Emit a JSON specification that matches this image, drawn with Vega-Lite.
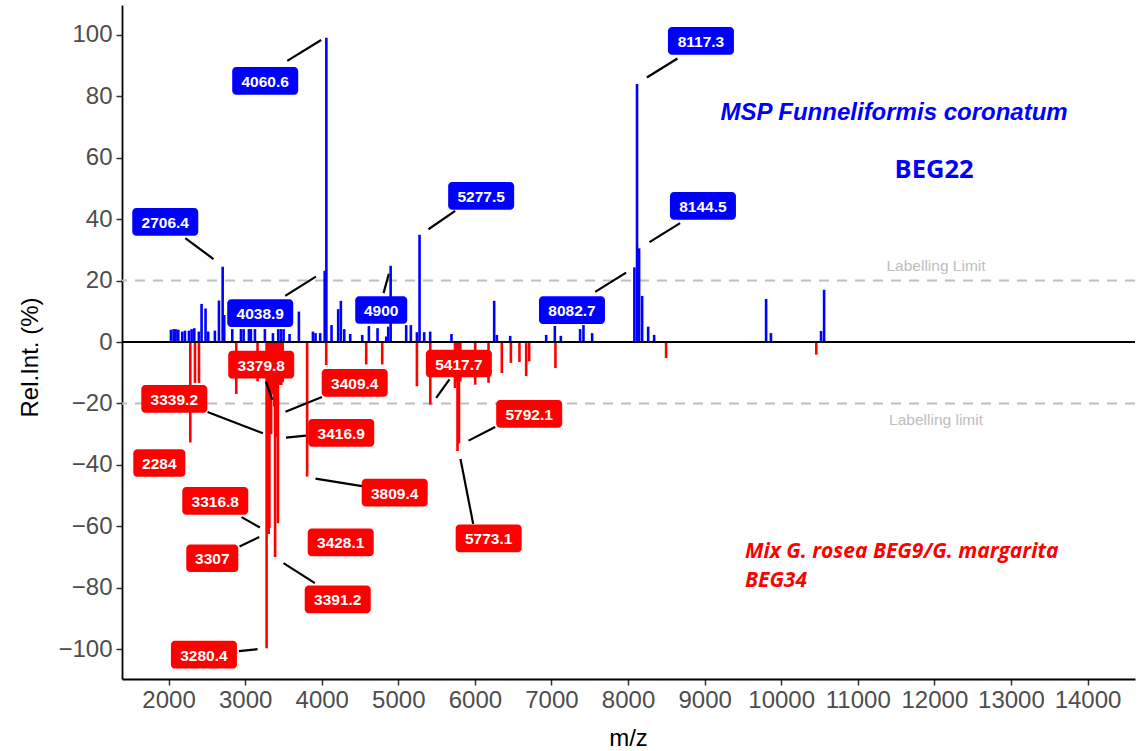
{
  "$schema": "https://vega.github.io/schema/vega-lite/v6.json",
  "width": 1013,
  "height": 674,
  "autosize": {"type": "none"},
  "padding": {"left": 122, "top": 5, "right": 2, "bottom": 72},
  "background": "white",
  "config": {"view": {"stroke": null}},
  "datasets": {
    "one": [{}],
    "peaks": [
      {"mz": 2031, "intensity": 4.0, "sample": "pos"},
      {"mz": 2066, "intensity": 4.2, "sample": "pos"},
      {"mz": 2092, "intensity": 4.2, "sample": "pos"},
      {"mz": 2127, "intensity": 4.0, "sample": "pos"},
      {"mz": 2179, "intensity": 3.4, "sample": "pos"},
      {"mz": 2214, "intensity": 3.7, "sample": "pos"},
      {"mz": 2266, "intensity": 3.7, "sample": "pos"},
      {"mz": 2301, "intensity": 4.2, "sample": "pos"},
      {"mz": 2336, "intensity": 4.5, "sample": "pos"},
      {"mz": 2396, "intensity": 3.4, "sample": "pos"},
      {"mz": 2431, "intensity": 12.4, "sample": "pos"},
      {"mz": 2483, "intensity": 10.9, "sample": "pos"},
      {"mz": 2518, "intensity": 3.4, "sample": "pos"},
      {"mz": 2605, "intensity": 3.7, "sample": "pos"},
      {"mz": 2658, "intensity": 13.5, "sample": "pos"},
      {"mz": 2706.4, "intensity": 24.5, "sample": "pos"},
      {"mz": 2727, "intensity": 8.8, "sample": "pos"},
      {"mz": 2832, "intensity": 4.2, "sample": "pos"},
      {"mz": 2945, "intensity": 4.2, "sample": "pos"},
      {"mz": 2980, "intensity": 4.2, "sample": "pos"},
      {"mz": 3049, "intensity": 4.2, "sample": "pos"},
      {"mz": 3075, "intensity": 4.2, "sample": "pos"},
      {"mz": 3128, "intensity": 4.2, "sample": "pos"},
      {"mz": 3258, "intensity": 4.2, "sample": "pos"},
      {"mz": 3363, "intensity": 2.9, "sample": "pos"},
      {"mz": 3432, "intensity": 4.2, "sample": "pos"},
      {"mz": 3467, "intensity": 4.2, "sample": "pos"},
      {"mz": 3502, "intensity": 4.2, "sample": "pos"},
      {"mz": 3580, "intensity": 2.6, "sample": "pos"},
      {"mz": 3702, "intensity": 9.9, "sample": "pos"},
      {"mz": 3885, "intensity": 3.4, "sample": "pos"},
      {"mz": 3919, "intensity": 2.9, "sample": "pos"},
      {"mz": 3980, "intensity": 2.9, "sample": "pos"},
      {"mz": 4038.9, "intensity": 23.2, "sample": "pos"},
      {"mz": 4060.6, "intensity": 99.0, "sample": "pos"},
      {"mz": 4128, "intensity": 5.5, "sample": "pos"},
      {"mz": 4215, "intensity": 10.7, "sample": "pos"},
      {"mz": 4250, "intensity": 13.4, "sample": "pos"},
      {"mz": 4294, "intensity": 4.2, "sample": "pos"},
      {"mz": 4372, "intensity": 2.6, "sample": "pos"},
      {"mz": 4529, "intensity": 2.3, "sample": "pos"},
      {"mz": 4616, "intensity": 5.2, "sample": "pos"},
      {"mz": 4729, "intensity": 4.5, "sample": "pos"},
      {"mz": 4842, "intensity": 1.8, "sample": "pos"},
      {"mz": 4868, "intensity": 5.0, "sample": "pos"},
      {"mz": 4900, "intensity": 24.8, "sample": "pos"},
      {"mz": 5103, "intensity": 5.5, "sample": "pos"},
      {"mz": 5164, "intensity": 5.5, "sample": "pos"},
      {"mz": 5243, "intensity": 3.2, "sample": "pos"},
      {"mz": 5277.5, "intensity": 34.9, "sample": "pos"},
      {"mz": 5338, "intensity": 3.2, "sample": "pos"},
      {"mz": 5416, "intensity": 3.4, "sample": "pos"},
      {"mz": 5694, "intensity": 2.6, "sample": "pos"},
      {"mz": 6252, "intensity": 13.4, "sample": "pos"},
      {"mz": 6287, "intensity": 2.3, "sample": "pos"},
      {"mz": 6461, "intensity": 2.0, "sample": "pos"},
      {"mz": 6931, "intensity": 2.3, "sample": "pos"},
      {"mz": 7044, "intensity": 5.2, "sample": "pos"},
      {"mz": 7122, "intensity": 2.0, "sample": "pos"},
      {"mz": 7374, "intensity": 4.2, "sample": "pos"},
      {"mz": 7418, "intensity": 5.5, "sample": "pos"},
      {"mz": 7531, "intensity": 2.9, "sample": "pos"},
      {"mz": 8082.7, "intensity": 24.3, "sample": "pos"},
      {"mz": 8117.3, "intensity": 84.0, "sample": "pos"},
      {"mz": 8144.5, "intensity": 30.5, "sample": "pos"},
      {"mz": 8184, "intensity": 15.0, "sample": "pos"},
      {"mz": 8263, "intensity": 5.0, "sample": "pos"},
      {"mz": 8341, "intensity": 2.3, "sample": "pos"},
      {"mz": 9803, "intensity": 14.0, "sample": "pos"},
      {"mz": 9866, "intensity": 2.9, "sample": "pos"},
      {"mz": 10520, "intensity": 3.6, "sample": "pos"},
      {"mz": 10560, "intensity": 17.0, "sample": "pos"},
      {"mz": 2284, "intensity": -32.7, "sample": "neg"},
      {"mz": 2345, "intensity": -13.3, "sample": "neg"},
      {"mz": 2397, "intensity": -13.3, "sample": "neg"},
      {"mz": 2884, "intensity": -16.9, "sample": "neg"},
      {"mz": 3162, "intensity": -12.8, "sample": "neg"},
      {"mz": 3280.4, "intensity": -99.7, "sample": "neg"},
      {"mz": 3295, "intensity": -15.0, "sample": "neg"},
      {"mz": 3307, "intensity": -62.5, "sample": "neg"},
      {"mz": 3316.8, "intensity": -60.5, "sample": "neg"},
      {"mz": 3328, "intensity": -16.0, "sample": "neg"},
      {"mz": 3339.2, "intensity": -30.0, "sample": "neg"},
      {"mz": 3352, "intensity": -16.0, "sample": "neg"},
      {"mz": 3365, "intensity": -17.0, "sample": "neg"},
      {"mz": 3379.8, "intensity": -21.0, "sample": "neg"},
      {"mz": 3391.2, "intensity": -70.0, "sample": "neg"},
      {"mz": 3400, "intensity": -16.0, "sample": "neg"},
      {"mz": 3409.4, "intensity": -23.0, "sample": "neg"},
      {"mz": 3416.9, "intensity": -31.0, "sample": "neg"},
      {"mz": 3428.1, "intensity": -59.0, "sample": "neg"},
      {"mz": 3440, "intensity": -14.0, "sample": "neg"},
      {"mz": 3455, "intensity": -13.0, "sample": "neg"},
      {"mz": 3472, "intensity": -14.0, "sample": "neg"},
      {"mz": 3490, "intensity": -13.0, "sample": "neg"},
      {"mz": 3809.4, "intensity": -43.8, "sample": "neg"},
      {"mz": 4059, "intensity": -7.5, "sample": "neg"},
      {"mz": 4581, "intensity": -7.3, "sample": "neg"},
      {"mz": 4790, "intensity": -7.3, "sample": "neg"},
      {"mz": 5243, "intensity": -14.4, "sample": "neg"},
      {"mz": 5417.7, "intensity": -20.4, "sample": "neg"},
      {"mz": 5740, "intensity": -15.0, "sample": "neg"},
      {"mz": 5755, "intensity": -12.8, "sample": "neg"},
      {"mz": 5773.1, "intensity": -35.5, "sample": "neg"},
      {"mz": 5792.1, "intensity": -33.0, "sample": "neg"},
      {"mz": 5810, "intensity": -12.8, "sample": "neg"},
      {"mz": 6004, "intensity": -13.9, "sample": "neg"},
      {"mz": 6178, "intensity": -13.3, "sample": "neg"},
      {"mz": 6352, "intensity": -10.1, "sample": "neg"},
      {"mz": 6470, "intensity": -6.8, "sample": "neg"},
      {"mz": 6582, "intensity": -6.5, "sample": "neg"},
      {"mz": 6670, "intensity": -11.1, "sample": "neg"},
      {"mz": 6709, "intensity": -6.3, "sample": "neg"},
      {"mz": 7052, "intensity": -8.5, "sample": "neg"},
      {"mz": 8497, "intensity": -5.2, "sample": "neg"},
      {"mz": 10458, "intensity": -4.1, "sample": "neg"}
    ],
    "labels": [
      {"label": "2706.4", "sample": "pos", "lx": 1957, "ly": 39.1},
      {"label": "4060.6", "sample": "pos", "lx": 3262, "ly": 85.0},
      {"label": "4038.9", "sample": "pos", "lx": 3197, "ly": 9.4},
      {"label": "4900", "sample": "pos", "lx": 4777, "ly": 10.4},
      {"label": "5277.5", "sample": "pos", "lx": 6082, "ly": 47.6},
      {"label": "8117.3", "sample": "pos", "lx": 8952, "ly": 98.0},
      {"label": "8144.5", "sample": "pos", "lx": 8978, "ly": 44.3},
      {"label": "8082.7", "sample": "pos", "lx": 7268, "ly": 10.4},
      {"label": "3379.8", "sample": "neg", "lx": 3210, "ly": -7.4},
      {"label": "3339.2", "sample": "neg", "lx": 2075, "ly": -18.5},
      {"label": "3409.4", "sample": "neg", "lx": 4431, "ly": -13.3},
      {"label": "3416.9", "sample": "neg", "lx": 4255, "ly": -29.6},
      {"label": "2284", "sample": "neg", "lx": 1879, "ly": -39.4},
      {"label": "3809.4", "sample": "neg", "lx": 4953, "ly": -49.0},
      {"label": "3316.8", "sample": "neg", "lx": 2610, "ly": -51.7},
      {"label": "3428.1", "sample": "neg", "lx": 4248, "ly": -65.2},
      {"label": "3307", "sample": "neg", "lx": 2571, "ly": -70.4},
      {"label": "3391.2", "sample": "neg", "lx": 4209, "ly": -83.8},
      {"label": "3280.4", "sample": "neg", "lx": 2462, "ly": -101.8},
      {"label": "5417.7", "sample": "neg", "lx": 5791, "ly": -7.0},
      {"label": "5792.1", "sample": "neg", "lx": 6709, "ly": -23.4},
      {"label": "5773.1", "sample": "neg", "lx": 6180, "ly": -63.9}
    ],
    "segments": [
      {"x1": 2218, "y1": 33.8, "x2": 2587, "y2": 27.0},
      {"x1": 3550, "y1": 91.5, "x2": 3993, "y2": 98.3},
      {"x1": 3523, "y1": 15.0, "x2": 3924, "y2": 21.3},
      {"x1": 4807, "y1": 15.9, "x2": 4877, "y2": 22.2},
      {"x1": 5394, "y1": 36.7, "x2": 5743, "y2": 42.7},
      {"x1": 8246, "y1": 86.1, "x2": 8645, "y2": 92.3},
      {"x1": 8280, "y1": 32.5, "x2": 8680, "y2": 38.7},
      {"x1": 7571, "y1": 16.3, "x2": 7975, "y2": 22.6},
      {"x1": 3272, "y1": -12.9, "x2": 3354, "y2": -18.8},
      {"x1": 2509, "y1": -22.8, "x2": 3232, "y2": -29.7},
      {"x1": 4003, "y1": -17.9, "x2": 3527, "y2": -22.7},
      {"x1": 3794, "y1": -30.5, "x2": 3533, "y2": -31.1},
      {"x1": 4525, "y1": -46.9, "x2": 3919, "y2": -44.5},
      {"x1": 2953, "y1": -57.0, "x2": 3193, "y2": -60.4},
      {"x1": 2927, "y1": -66.6, "x2": 3184, "y2": -63.5},
      {"x1": 3501, "y1": -72.0, "x2": 3911, "y2": -78.5},
      {"x1": 2919, "y1": -100.6, "x2": 3162, "y2": -100.0},
      {"x1": 5668, "y1": -12.2, "x2": 5495, "y2": -18.2},
      {"x1": 6265, "y1": -27.7, "x2": 5917, "y2": -32.1},
      {"x1": 5812, "y1": -38.1, "x2": 5978, "y2": -59.2}
    ]
  },
  "encoding": {
    "x": {"type": "quantitative", "scale": {"domain": [1392, 14620], "nice": false, "zero": false}},
    "y": {"type": "quantitative", "scale": {"domain": [-109.7, 109.7], "nice": false, "zero": false}}
  },
  "layer": [
    {
      "data": {"name": "one"},
      "mark": {"type": "rule", "color": "#BEBEBE", "strokeWidth": 2, "strokeDash": [10, 8]},
      "encoding": {"y": {"datum": 20}}
    },
    {
      "data": {"name": "one"},
      "mark": {"type": "rule", "color": "#BEBEBE", "strokeWidth": 2, "strokeDash": [10, 8]},
      "encoding": {"y": {"datum": -20}}
    },
    {
      "data": {"name": "peaks"},
      "mark": {"type": "rule", "strokeWidth": 2.6},
      "encoding": {
        "x": {
          "field": "mz", "type": "quantitative",
          "axis": {
            "title": "m/z", "values": [2000, 3000, 4000, 5000, 6000, 7000, 8000, 9000, 10000, 11000, 12000, 13000, 14000],
            "format": "d", "grid": false, "domainColor": "#000000", "domainWidth": 1.8,
            "tickColor": "#333333", "tickWidth": 1.5, "tickSize": 6,
            "labelFont": "Liberation Sans", "labelFontSize": 24, "labelColor": "#4D4D4D", "labelPadding": 3,
            "titleFont": "Liberation Sans", "titleFontSize": 24, "titleFontWeight": "normal", "titleColor": "#000000",
            "titleX": 506, "titleY": 59, "titleBaseline": "middle", "titleAlign": "center"
          }
        },
        "y": {
          "field": "intensity", "type": "quantitative",
          "axis": {
            "title": "Rel.Int. (%)", "values": [-100, -80, -60, -40, -20, 0, 20, 40, 60, 80, 100],
            "labelExpr": "replace(format(datum.value, 'd'), '-', '\u2212')",
            "grid": false, "domainColor": "#000000", "domainWidth": 1.8,
            "tickColor": "#333333", "tickWidth": 1.5, "tickSize": 6,
            "labelFont": "Liberation Sans", "labelFontSize": 24, "labelColor": "#4D4D4D", "labelPadding": 4,
            "titleFont": "Liberation Sans", "titleFontSize": 24, "titleFontWeight": "normal", "titleColor": "#000000",
            "titleX": -92, "titleY": 352, "titleBaseline": "middle", "titleAlign": "center", "titleAngle": 270
          }
        },
        "y2": {"datum": 0},
        "color": {"field": "sample", "type": "nominal", "scale": {"domain": ["pos", "neg"], "range": ["#0000FF", "#FF0000"]}, "legend": null}
      }
    },
    {
      "data": {"name": "one"},
      "mark": {"type": "rule", "color": "#000000", "strokeWidth": 2},
      "encoding": {"y": {"datum": 0}}
    },
    {
      "data": {"name": "one"},
      "mark": {"type": "text", "text": "Labelling Limit", "font": "Liberation Sans", "fontSize": 15.5, "color": "#BEBEBE", "align": "center", "baseline": "middle"},
      "encoding": {"x": {"datum": 12022}, "y": {"datum": 24.7}}
    },
    {
      "data": {"name": "one"},
      "mark": {"type": "text", "text": "Labelling limit", "font": "Liberation Sans", "fontSize": 15.5, "color": "#BEBEBE", "align": "center", "baseline": "middle"},
      "encoding": {"x": {"datum": 12022}, "y": {"datum": -25.3}}
    },
    {
      "data": {"name": "segments"},
      "mark": {"type": "rule", "color": "#000000", "strokeWidth": 2.2},
      "encoding": {
        "x": {"field": "x1", "type": "quantitative"},
        "y": {"field": "y1", "type": "quantitative"},
        "x2": {"field": "x2"},
        "y2": {"field": "y2"}
      }
    },
    {
      "data": {"name": "labels"},
      "transform": [{"filter": "length(datum.label) > 4"}],
      "mark": {"type": "point", "filled": true, "opacity": 1, "strokeWidth": 0, "size": 4356,
        "shape": "M-0.88,-0.42 L0.88,-0.42 A0.12,0.12 0 0 1 1,-0.3 L1,0.3 A0.12,0.12 0 0 1 0.88,0.42 L-0.88,0.42 A0.12,0.12 0 0 1 -1,0.3 L-1,-0.3 A0.12,0.12 0 0 1 -0.88,-0.42 Z"},
      "encoding": {
        "x": {"field": "lx", "type": "quantitative"},
        "y": {"field": "ly", "type": "quantitative"},
        "color": {"field": "sample", "type": "nominal", "scale": {"domain": ["pos", "neg"], "range": ["#0000FF", "#FF0000"]}, "legend": null}
      }
    },
    {
      "data": {"name": "labels"},
      "transform": [{"filter": "length(datum.label) <= 4"}],
      "mark": {"type": "point", "filled": true, "opacity": 1, "strokeWidth": 0, "size": 2704,
        "shape": "M-0.85,-0.53 L0.85,-0.53 A0.15,0.15 0 0 1 1,-0.38 L1,0.38 A0.15,0.15 0 0 1 0.85,0.53 L-0.85,0.53 A0.15,0.15 0 0 1 -1,0.38 L-1,-0.38 A0.15,0.15 0 0 1 -0.85,-0.53 Z"},
      "encoding": {
        "x": {"field": "lx", "type": "quantitative"},
        "y": {"field": "ly", "type": "quantitative"},
        "color": {"field": "sample", "type": "nominal", "scale": {"domain": ["pos", "neg"], "range": ["#0000FF", "#FF0000"]}, "legend": null}
      }
    },
    {
      "data": {"name": "labels"},
      "mark": {"type": "text", "font": "Liberation Sans", "fontWeight": "bold", "fontSize": 15.5, "color": "#FFFFFF", "align": "center", "baseline": "middle", "dy": 1},
      "encoding": {
        "x": {"field": "lx", "type": "quantitative"},
        "y": {"field": "ly", "type": "quantitative"},
        "text": {"field": "label"}
      }
    },
    {
      "data": {"name": "one"},
      "mark": {"type": "text", "text": "MSP Funneliformis coronatum", "font": "Liberation Sans", "fontWeight": "bold", "fontStyle": "italic", "fontSize": 24, "color": "#0000FF", "align": "center", "baseline": "middle"},
      "encoding": {"x": {"datum": 11474}, "y": {"datum": 74.6}}
    },
    {
      "data": {"name": "one"},
      "mark": {"type": "text", "text": "BEG22", "font": "Open Sans", "fontWeight": "bold", "fontSize": 25.5, "color": "#0000FF", "align": "center", "baseline": "middle"},
      "encoding": {"x": {"datum": 11996}, "y": {"datum": 56.0}}
    },
    {
      "data": {"name": "one"},
      "mark": {"type": "text", "text": "Mix G. rosea BEG9/G. margarita", "font": "Open Sans", "fontWeight": "bold", "fontStyle": "italic", "fontSize": 21, "color": "#FF0000", "align": "left", "baseline": "middle"},
      "encoding": {"x": {"datum": 9527}, "y": {"datum": -68.3}}
    },
    {
      "data": {"name": "one"},
      "mark": {"type": "text", "text": "BEG34", "font": "Open Sans", "fontWeight": "bold", "fontStyle": "italic", "fontSize": 21, "color": "#FF0000", "align": "left", "baseline": "middle"},
      "encoding": {"x": {"datum": 9527}, "y": {"datum": -77.8}}
    }
  ]
}
